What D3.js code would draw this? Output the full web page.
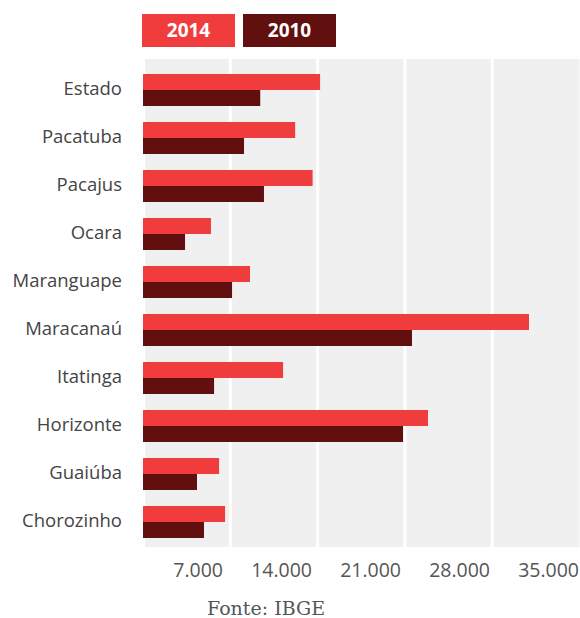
<!DOCTYPE html>
<html>
<head>
<meta charset="utf-8">
<script src="https://cdn.jsdelivr.net/npm/d3@7"></script>
<style>
  html, body { margin: 0; padding: 0; background: #fff; }
  svg { display: block; }
</style>
</head>
<body>
<svg id="chart" width="580" height="618"></svg>
<script>
// Municipalities (top to bottom) and values per year
const categories = ["Estado", "Pacatuba", "Pacajus", "Ocara", "Maranguape",
  "Maracanaú", "Itatinga", "Horizonte", "Guaiúba", "Chorozinho"];
const values2014 = [14200, 12200, 13600, 5450, 8580, 30950, 11230, 22850, 6100, 6580];
const values2010 = [9400, 8100, 9700, 3370, 7140, 21570, 5700, 20850, 4330, 4890];
const seriesNames = ["2014", "2010"];
const tickValues = [7000, 14000, 21000, 28000, 35000];
const source = "Fonte: IBGE";

const colors = { "2014": "#f03c3c", "2010": "#620f0f" };
const sans = "'Open Sans', 'Noto Sans', sans-serif";

const svg = d3.select("#chart");

const x = d3.scaleLinear().domain([0, 35000]).range([143, 579.5]);
// tick labels sit right-aligned just before each grid line
const xLabel = d3.scaleLinear().domain([0, 35000]).range([134, 579]);
const y = d3.scaleBand().domain(categories).range([66, 546])
  .paddingInner(1 / 3).paddingOuter(1 / 6);
const ySub = d3.scaleBand().domain(seriesNames).range([0, y.bandwidth()]);

// plot background
svg.append("rect")
  .attr("x", x(0) + 2).attr("y", 59)
  .attr("width", x(35000) - x(0) - 2).attr("height", 488)
  .attr("fill", "#f0f0f0");

// white grid separators
svg.append("g").selectAll("line")
  .data(tickValues.slice(0, -1))
  .join("line")
  .attr("x1", d => x(d)).attr("x2", d => x(d))
  .attr("y1", 59).attr("y2", 547)
  .attr("stroke", "#fff").attr("stroke-width", 3);

// bars
const groups = svg.append("g").selectAll("g")
  .data(categories)
  .join("g")
  .attr("transform", d => `translate(0,${y(d)})`);

groups.selectAll("rect")
  .data((d, i) => [
    { key: "2014", value: values2014[i] },
    { key: "2010", value: values2010[i] }
  ])
  .join("rect")
  .attr("x", x(0))
  .attr("y", d => ySub(d.key))
  .attr("width", d => x(d.value) - x(0))
  .attr("height", ySub.bandwidth())
  .attr("fill", d => colors[d.key]);

// category labels
svg.append("g").selectAll("text")
  .data(categories)
  .join("text")
  .attr("x", 122)
  .attr("y", d => y(d) + y.bandwidth() / 2 - 1)
  .attr("dy", "0.35em")
  .attr("text-anchor", "end")
  .attr("font-family", sans)
  .attr("font-size", 18.5)
  .attr("fill", "#444")
  .text(d => d);

// axis tick labels
svg.append("g").selectAll("text")
  .data(tickValues)
  .join("text")
  .attr("x", d => xLabel(d))
  .attr("y", 577)
  .attr("text-anchor", "end")
  .attr("font-family", sans)
  .attr("font-size", 19.5)
  .attr("fill", "#555")
  .text(d => d3.format(",")(d).replace(/,/g, "."));

// legend
const legend = svg.append("g").selectAll("g")
  .data(seriesNames)
  .join("g")
  .attr("transform", (d, i) => `translate(${142 + i * 101},14)`);
legend.append("rect")
  .attr("width", 93).attr("height", 33)
  .attr("fill", d => colors[d]);
legend.append("text")
  .attr("x", 46.5).attr("y", 16.5).attr("dy", "0.36em")
  .attr("text-anchor", "middle")
  .attr("font-family", sans)
  .attr("font-weight", "bold")
  .attr("font-size", 19)
  .attr("fill", "#fff")
  .text(d => d);

// source note
svg.append("text")
  .attr("x", 207).attr("y", 615)
  .attr("font-family", "'DejaVu Serif', serif")
  .attr("font-size", 19)
  .attr("fill", "#555")
  .text(source);
</script>
</body>
</html>
